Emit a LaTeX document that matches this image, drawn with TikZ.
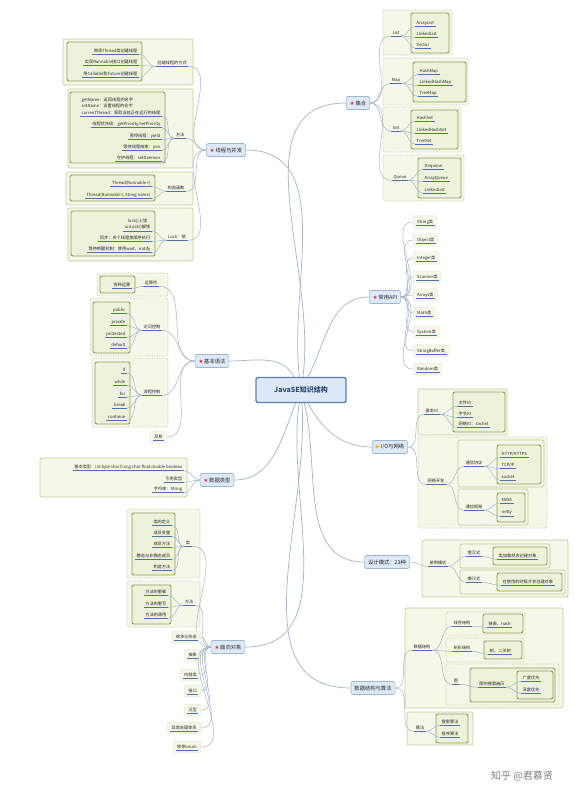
\documentclass[tikz,border=0pt]{standalone}
\usepackage{fontspec}
\setmainfont{Noto Sans CJK SC}
\newfontfamily\symfont{DejaVu Sans}
\usepackage{xcolor}
\definecolor{topicfill}{HTML}{DDE9F7}
\definecolor{topicdraw}{HTML}{9DB6D6}
\definecolor{rootdraw}{HTML}{5B80B4}
\definecolor{roottext}{HTML}{2E4A78}
\definecolor{grpfill}{HTML}{F5F7E8}
\definecolor{grpdraw}{HTML}{C4CD9C}
\definecolor{boxfill}{HTML}{EEF2DA}
\definecolor{boxdraw}{HTML}{8D9E5A}
\definecolor{ulblue}{HTML}{4E72A6}
\definecolor{linkgray}{HTML}{A4B4C8}
\definecolor{starred}{HTML}{D8283C}
\definecolor{staryellow}{HTML}{F2B516}
\newcommand{\hotmark}{{\symfont\color{starred}★}\,}
\newcommand{\iomark}{{\symfont\color{staryellow}▶}\,}
\newcommand{\jvGroup}[5][grp]{%
    \draw[#1] (#2,#3) rectangle (#4,#5);
}
\newcommand{\jvInner}[4]{%
    \draw[inner] (#1,#2) rectangle (#3,#4);
}

\begin{document}
\begin{tikzpicture}[x=1pt, y=-1pt,
    every node/.style={font=\fontsize{4.2}{5}\selectfont, text=black!85},
    root/.style={draw=rootdraw, line width=1.4pt, fill=topicfill, rounded corners=2pt,
        minimum width=90pt, minimum height=25pt, text=roottext,
        font=\fontsize{7}{8}\selectfont\bfseries},
    topic/.style={draw=topicdraw, fill=topicfill, rounded corners=1.5pt, line width=0.6pt,
        inner xsep=3.5pt, minimum height=13pt, font=\fontsize{5.3}{6}\selectfont},
    leaf/.style={inner xsep=1.5pt, inner ysep=1.2pt,
        append after command={(\tikzlastnode.south west) edge[ul] (\tikzlastnode.south east)}},
    ul/.style={draw=ulblue, line width=0.5pt},
    apibox/.style={draw=grpdraw, densely dotted, fill=grpfill, rounded corners=1.5pt,
        inner xsep=4pt, inner ysep=4pt,
        path picture={\draw[ul, solid] ([xshift=2.5pt,yshift=3pt]path picture bounding box.south west)
            -- ([xshift=-2.5pt,yshift=3pt]path picture bounding box.south east);}},
    grp/.style={draw=grpdraw, fill=grpfill, rounded corners=2pt, line width=0.7pt},
    grpdot/.style={grp, densely dotted},
    inner/.style={draw=boxdraw, fill=boxfill, rounded corners=2pt, line width=0.9pt},
    link/.style={draw=linkgray, line width=0.5pt},
    trunk/.style={draw=linkgray, line width=0.7pt},
]
\useasboundingbox (0,0) rectangle (575,800);
\fill[white] (0,0) rectangle (575,800);

% group frames
\jvGroup{63}{39}{193}{85} \jvInner{67}{42}{142}{81}
\jvGroup{68}{89}{193}{168} \jvInner{70}{92}{165}{163}
\jvGroup{66}{172}{193}{205} \jvInner{70}{175}{155}{201}
\jvGroup{68}{208}{193}{261} \jvInner{71}{211}{155}{256}

\jvGroup[grpdot]{383}{10}{452}{55} \jvInner{411}{13}{449}{53}
\jvGroup[grpdot]{383}{58}{468}{105} \jvInner{413}{62}{466}{102}
\jvGroup[grpdot]{383}{107}{461}{152} \jvInner{411}{110}{458}{149}
\jvGroup[grpdot]{383}{155}{464}{201} \jvInner{418}{158}{461}{198}

\jvGroup{418}{389}{507}{435} \jvInner{453}{392}{505}{432}
\jvGroup[grpdot]{418}{437}{547}{528}
\jvGroup{458}{440}{544}{487} \jvInner{497}{445}{541}{484}
\jvGroup{458}{489}{528}{525} \jvInner{497}{493}{525}{522}

\jvGroup{422}{540}{568}{597}
\jvGroup{460}{544}{550}{568} \jvInner{493}{547}{547}{565}
\jvGroup{460}{570}{565}{594} \jvInner{497}{573}{562}{591}

\jvGroup{405}{608}{563}{708}
\jvGroup[grpdot]{446}{612}{525}{635} \jvInner{483}{614}{523}{633}
\jvGroup[grpdot]{446}{638}{524}{662} \jvInner{484}{641}{522}{659}
\jvGroup[grpdot]{446}{664}{559}{705} \jvInner{470}{668}{555}{702}
\jvInner{517}{671}{553}{699}
\jvGroup{407}{712}{473}{745} \jvInner{436}{714}{468}{743}

\jvGroup[grpdot]{97}{273}{168}{296} \jvInner{100}{276}{135}{293}
\jvGroup[grpdot]{90}{298}{168}{356} \jvInner{93}{302}{130}{353}
\jvGroup[grpdot]{92}{358}{168}{427} \jvInner{95}{362}{130}{424}

\jvGroup{40}{458}{187}{497}

\jvGroup[grpdot]{127}{509}{200}{578} \jvInner{132}{513}{175}{575}
\jvGroup[grpdot]{127}{581}{200}{627} \jvInner{132}{585}{171}{624}

% root and topics
\node[root] (root) at (301,390) {JavaSE知识结构};
\node[topic] (thr) at (226,150) {\hotmark 线程与并发};
\node[topic] (col) at (358,103) {\hotmark 集合};
\node[topic] (api) at (385,297) {\hotmark 常用API};
\node[topic] (io) at (390,447) {\iomark I/O与网络};
\node[topic] (dp) at (387,562) {设计模式：23种};
\node[topic] (ds) at (373,688) {数据结构与算法};
\node[topic] (syn) at (212,361) {\hotmark 基本语法};
\node[topic] (typ) at (217,480) {\hotmark 数据类型};
\node[topic] (oop) at (228,647) {\hotmark 面向对象};

\foreach \t/\a/\b in {thr/97/0, col/82/180, api/62/180, io/-62/180, dp/-76/180,
    ds/-86/180, syn/118/0, typ/-112/0, oop/-98/0}
    \draw[trunk] (root) to[out=\a,in=\b] (\t);

% 线程与并发
\node[leaf] (t1) at (172,63) {创建线程的方式};
\foreach \i/\y/\t in {1/51/继承Thread类创建线程, 2/62/实现Runnable接口创建线程,
    3/74/用Callable和Future创建线程}
    \node[leaf, anchor=east] (t1\i) at (139,\y) {\t};
\node[leaf] (t2) at (180,135) {方法};
\node[leaf, anchor=east, align=left, font=\fontsize{4.2}{6.6}\selectfont] (t21) at (162,106)
    {getName：返回线程的名字\\setName：设置线程的名字\\currentThread：获取当前正在运行的线程};
\foreach \i/\y/\t in {2/124/{线程优先级：getPriority/setPriority}, 3/136/暂停线程：yield,
    4/147/等待线程结束：join, 5/158/守护线程：setDaemon}
    \node[leaf, anchor=east] (t2\i) at (162,\y) {\t};
\node[leaf] (t3) at (176,188) {构造函数};
\foreach \i/\y/\t in {1/183/Thread(Runnable r), 2/195/{Thread(Runnable r, String name)}}
    \node[leaf, anchor=east] (t3\i) at (152,\y) {\t};
\node[leaf] (t4) at (177,237) {Lock：锁};
\node[leaf, anchor=east, align=center, font=\fontsize{4.2}{6.6}\selectfont] (t41) at (152,224)
    {lock()上锁\\unLock()解锁};
\foreach \i/\y/\t in {2/238/同步：多个线程按顺序执行, 3/249/等待唤醒机制：使用wait、notify}
    \node[leaf, anchor=east] (t4\i) at (152,\y) {\t};

\foreach \g/\n in {t1/3, t2/5, t3/2, t4/3} {
    \draw[link] (thr.west) to[out=180,in=0] (\g.south east);
    \foreach \i in {1,...,\n}
        \draw[link] (\g.south west) to[out=180,in=0] (\g\i.south east);
}

% 集合
\node[leaf] (lst) at (396,33) {List};
\node[leaf] (map) at (396,80) {Map};
\node[leaf] (set) at (396,128) {Set};
\node[leaf] (que) at (400,177) {Queue};
\foreach \i/\y/\t in {1/23/ArrayList, 2/34/LinkedList, 3/45/Vector}
    \node[leaf, anchor=west] (lst\i) at (415,\y) {\t};
\foreach \i/\y/\t in {1/71/HashMap, 2/82/LinkedHashMap, 3/93/TreeMap}
    \node[leaf, anchor=west] (map\i) at (418,\y) {\t};
\foreach \i/\y/\t in {1/118/HashSet, 2/130/LinkedHashSet, 3/141/TreeSet}
    \node[leaf, anchor=west] (set\i) at (415,\y) {\t};
\foreach \i/\y/\t in {1/166/Dequeue, 2/178/ArrayQueue, 3/190/LinkedList}
    \node[leaf, anchor=west] (que\i) at (423,\y) {\t};
\foreach \g in {lst, map, set, que} {
    \draw[link] (col.east) to[out=0,in=180] (\g.south west);
    \foreach \i in {1,2,3}
        \draw[link] (\g.south east) to[out=0,in=180] (\g\i.south west);
}

% 常用API
\foreach \i/\y/\t in {1/222/String类, 2/240/Object类, 3/258/Integer类, 4/277/Scanner类,
    5/295/Arrays类, 6/313/Math类, 7/332/System类, 8/351/StringBuffer类, 9/369/Random类} {
    \node[apibox, anchor=west] (api\i) at (413,\y) {\t};
    \draw[link] (api.east) to[out=0,in=180] (api\i.west);
}

% I/O与网络
\node[leaf] (io1) at (432,411) {基本IO};
\foreach \i/\y/\t in {1/403/文件IO, 2/414/字节IO, 3/424/网络IO：socket}
    \node[leaf, anchor=west] (io1\i) at (457,\y) {\t};
\node[leaf] (io2) at (436,481) {网络开发};
\node[leaf] (io21) at (474,463) {通信协议};
\node[leaf] (io22) at (474,507) {通信框架};
\foreach \i/\y/\t in {1/454/{HTTP/HTTPS}, 2/465/{TCP/IP}, 3/477/socket}
    \node[leaf, anchor=west] (io21\i) at (500,\y) {\t};
\foreach \i/\y/\t in {1/500/MINA, 2/513/netty}
    \node[leaf, anchor=west] (io22\i) at (500,\y) {\t};
\foreach \g in {io1, io2}
    \draw[link] (io.east) to[out=0,in=180] (\g.south west);
\foreach \g in {io21, io22}
    \draw[link] (io2.south east) to[out=0,in=180] (\g.south west);
\foreach \g/\n in {io1/3, io21/3, io22/2}
    \foreach \i in {1,...,\n}
        \draw[link] (\g.south east) to[out=0,in=180] (\g\i.south west);

% 设计模式
\node[leaf] (dp1) at (438,563) {单例模式};
\node[leaf] (dp11) at (474,553) {饿汉式};
\node[leaf] (dp12) at (474,579) {懒汉式};
\node[leaf, anchor=west] (dpa) at (497,556) {类加载就会创建对象};
\node[leaf, anchor=west] (dpb) at (501,582) {在使用的时候才会创建对象};
\draw[link] (dp.east) to[out=0,in=180] (dp1.south west);
\draw[link] (dp1.south east) to[out=0,in=180] (dp11.south west);
\draw[link] (dp1.south east) to[out=0,in=180] (dp12.south west);
\draw[link] (dp11.south east) to[out=0,in=180] (dpa.south west);
\draw[link] (dp12.south east) to[out=0,in=180] (dpb.south west);

% 数据结构与算法
\node[leaf] (ds1) at (422,647) {数据结构};
\node[leaf] (ds11) at (462,623) {线性结构};
\node[leaf] (ds12) at (462,648) {树形结构};
\node[leaf] (ds13) at (456,681) {图};
\node[leaf] (ds131) at (492,684) {图的搜索遍历};
\node[leaf, anchor=west] (ds11a) at (487,624) {链表、hash};
\node[leaf, anchor=west] (ds12a) at (488,651) {树、二叉树};
\foreach \i/\y/\t in {1/678/广度优先, 2/690/深度优先}
    \node[leaf, anchor=west] (ds131\i) at (521,\y) {\t};
\node[leaf] (ds2) at (420,728) {算法};
\foreach \i/\y/\t in {1/722/搜索算法, 2/734/排序算法}
    \node[leaf, anchor=west] (ds2\i) at (440,\y) {\t};
\foreach \g in {ds1, ds2}
    \draw[link] (ds.east) to[out=0,in=180] (\g.south west);
\foreach \g in {ds11, ds12, ds13}
    \draw[link] (ds1.south east) to[out=0,in=180] (\g.south west);
\draw[link] (ds11.south east) to[out=0,in=180] (ds11a.south west);
\draw[link] (ds12.south east) to[out=0,in=180] (ds12a.south west);
\draw[link] (ds13.south east) to[out=0,in=180] (ds131.south west);
\foreach \g in {ds131, ds2}
    \foreach \i in {1,2}
        \draw[link] (\g.south east) to[out=0,in=180] (\g\i.south west);

% 基本语法
\node[leaf] (s1) at (151,283) {运算符};
\node[leaf, anchor=east] (s11) at (132,285) {各种运算};
\node[leaf] (s2) at (152,327) {访问控制};
\foreach \i/\y/\t in {1/310/public, 2/322/private, 3/334/protected, 4/345/default}
    \node[leaf, anchor=east] (s2\i) at (127,\y) {\t};
\node[leaf] (s3) at (152,392) {流程控制};
\foreach \i/\y/\t in {1/370/if, 2/382/while, 3/394/for, 4/405/break, 5/417/continue}
    \node[leaf, anchor=east] (s3\i) at (127,\y) {\t};
\node[apibox, anchor=east] (s4) at (167,437) {反射};
\foreach \g in {s1, s2, s3}
    \draw[link] (syn.west) to[out=180,in=0] (\g.south east);
\draw[link] (syn.west) to[out=180,in=0] (s4.east);
\foreach \g/\n in {s1/1, s2/4, s3/5}
    \foreach \i in {1,...,\n}
        \draw[link] (\g.south west) to[out=180,in=0] (\g\i.south east);

% 数据类型
\foreach \i/\y/\t in {1/467/基本类型：int byte short long char float double boolean,
    2/479/引用类型, 3/489/字符串：String} {
    \node[leaf, anchor=east] (typ\i) at (184,\y) {\t};
    \draw[link] (typ.west) to[out=180,in=0] (typ\i.south east);
}

% 面向对象
\node[leaf] (o1) at (188,543) {类};
\foreach \i/\y/\t in {1/522/类的定义, 2/533/成员变量, 3/544/成员方法, 4/556/静态与非静态成员,
    5/567/构造方法}
    \node[leaf, anchor=east] (o1\i) at (172,\y) {\t};
\node[leaf] (o2) at (189,602) {方法};
\foreach \i/\y/\t in {1/592/方法的重载, 2/604/方法的重写, 3/615/方法的调用}
    \node[leaf, anchor=east] (o2\i) at (168,\y) {\t};
\foreach \g/\n in {o1/5, o2/3} {
    \draw[link] (oop.west) to[out=180,in=0] (\g.south east);
    \foreach \i in {1,...,\n}
        \draw[link] (\g.south west) to[out=180,in=0] (\g\i.south east);
}
\foreach \i/\y/\t in {3/637/继承与多态, 4/655/抽象, 5/675/内部类, 6/691/接口, 7/710/泛型,
    8/728/异常处理体系, 9/747/枚举enum} {
    \node[apibox, anchor=east] (o\i) at (201,\y) {\t};
    \draw[link] (oop.west) to[out=180,in=0] (o\i.east);
}

\node[font=\fontsize{10}{12}\selectfont, text=black!50] (mark) at (522,776) {知乎 @君慕贤};
\end{tikzpicture}
\end{document}
